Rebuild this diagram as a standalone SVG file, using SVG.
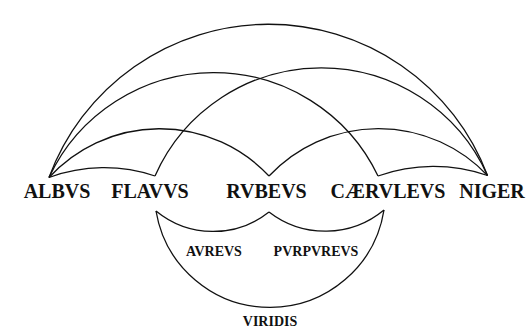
<svg xmlns="http://www.w3.org/2000/svg" width="530" height="329" viewBox="0 0 530 329">
<style>
.arc{fill:none;stroke:#111;stroke-width:1.3}
text{font-family:'Liberation Serif','DejaVu Serif',serif;font-weight:bold;fill:#111;text-anchor:middle}
.big{font-size:20px}
.small{font-size:14px}
</style>
<rect width="530" height="329" fill="#fff"/>
<g id="connectors">
<path class="arc" d="M49,177.5 A234,234 0 0 1 487.5,175.5"/>
<path class="arc" d="M49,177.5 A182,182 0 0 1 378,176"/>
<path class="arc" d="M155,176 A182,182 0 0 1 487.5,175.5"/>
<path class="arc" d="M49,177.5 A150,150 0 0 1 269,176"/>
<path class="arc" d="M269,176 A150,150 0 0 1 487.5,175.5"/>
<path class="arc" d="M49,177.5 A160,160 0 0 1 155,176"/>
<path class="arc" d="M378,176 A165,165 0 0 1 487.5,175.5"/>
<path class="arc" d="M156,211 A90,90 0 0 0 269,212"/>
<path class="arc" d="M269,212 A92,92 0 0 0 384,210"/>
<path class="arc" d="M156,211 A115.5,115.5 0 0 0 384,210"/>
</g>
<g id="albvs"><text class="big" x="57" y="198">ALBVS</text></g>
<g id="flavvs"><text class="big" x="150" y="198">FLAVVS</text></g>
<g id="rvbevs"><text class="big" x="266.5" y="198">RVBEVS</text></g>
<g id="caervlevs"><text class="big" x="388" y="198">CÆRVLEVS</text></g>
<g id="niger"><text class="big" x="492" y="198">NIGER</text></g>
<g id="avrevs"><text class="small" x="214" y="255.5">AVREVS</text></g>
<g id="pvrpvrevs"><text class="small" x="316" y="255.5">PVRPVREVS</text></g>
<g id="viridis"><text class="small" x="270" y="326">VIRIDIS</text></g>
</svg>
